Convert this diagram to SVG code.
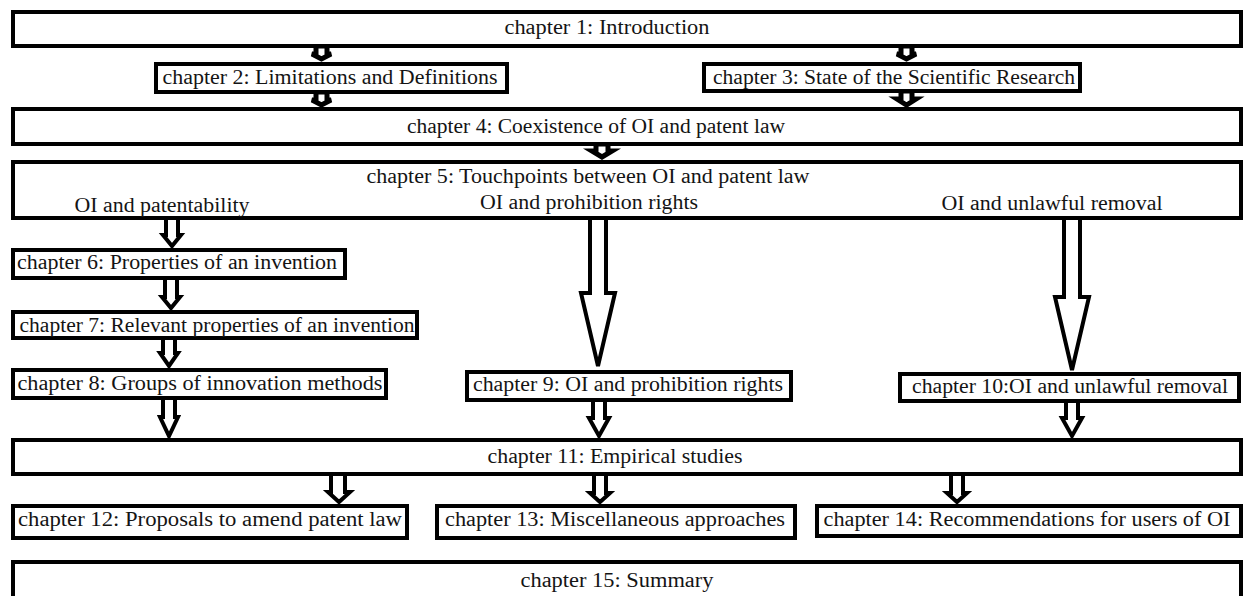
<svg xmlns="http://www.w3.org/2000/svg" width="1248" height="596" viewBox="0 0 1248 596">
  <style>
    .box { fill: #ffffff; stroke: #000000; stroke-width: 4; }
    .arrow { fill: #ffffff; stroke: #000000; stroke-width: 4; stroke-linejoin: miter; }
    .arrow.small { stroke-width: 5; }
    .label { font-family: "Liberation Serif", "DejaVu Serif", serif; font-size: 20px; fill: #141414; text-anchor: middle; }
  </style>
  <rect width="1248" height="596" fill="#ffffff"/>

  <!-- connectors: hollow block arrows -->
  <g id="connectors">
    <path class="arrow small" d="M316,46 H327 V54 H331 L321.5,59 L312,54 H316 Z"/>
    <path class="arrow small" d="M901,46 H912 V54 H916 L906.5,59 L897,54 H901 Z"/>
    <path class="arrow small" d="M316,92 H327 V100 H331 L321.5,105 L312,100 H316 Z"/>
    <path class="arrow small" d="M901,91 H912 V99 H916 L906.5,105 L897,99 H901 Z"/>
    <path class="arrow small" d="M596,144 H608 V151 H612 L602,157 L592,151 H596 Z"/>

    <path class="arrow" d="M166,218 H178 V235 H181 L172,246 L163,235 H166 Z"/>
    <path class="arrow" d="M165,278 H177 V297 H180 L171,308 L162,297 H165 Z"/>
    <path class="arrow" d="M163,338 H175 V353 H178 L169,366 L160,353 H163 Z"/>
    <path class="arrow" d="M163,398 H175 V417 H178 L169,436 L160,417 H163 Z"/>

    <path class="arrow" d="M590,218 H606 V293 H615 L598,366 L581,293 H590 Z"/>
    <path class="arrow" d="M1064,218 H1080 V297 H1089 L1072,370 L1055,297 H1064 Z"/>

    <path class="arrow" d="M593,400 H605 V418 H609 L599,436 L589,418 H593 Z"/>
    <path class="arrow" d="M1066,401 H1078 V418 H1082 L1072,436 L1062,418 H1066 Z"/>

    <path class="arrow" d="M331,474 H345 V492 H350 L339,502 L328,492 H331 Z"/>
    <path class="arrow" d="M594,474 H606 V493 H610 L600,502 L590,493 H594 Z"/>
    <path class="arrow" d="M951,474 H963 V493 H967 L957,502 L947,493 H951 Z"/>
  </g>

  <g id="ch1"><rect class="box" x="13" y="12" width="1228" height="34"/><text class="label" x="607" y="34" textLength="205" lengthAdjust="spacingAndGlyphs">chapter 1: Introduction</text></g>
  <g id="ch2"><rect class="box" x="156" y="64" width="351" height="28"/><text class="label" x="330" y="84" textLength="335" lengthAdjust="spacingAndGlyphs">chapter 2: Limitations and Definitions</text></g>
  <g id="ch3"><rect class="box" x="704" y="64" width="376" height="27"/><text class="label" x="894" y="84" textLength="362" lengthAdjust="spacingAndGlyphs">chapter 3: State of the Scientific Research</text></g>
  <g id="ch4"><rect class="box" x="13" y="109" width="1228" height="35"/><text class="label" x="596" y="133" textLength="378" lengthAdjust="spacingAndGlyphs">chapter 4: Coexistence of OI and patent law</text></g>
  <g id="ch5">
    <rect class="box" x="13" y="162" width="1228" height="56"/>
    <text class="label" x="588" y="183" textLength="443" lengthAdjust="spacingAndGlyphs">chapter 5: Touchpoints between OI and patent law</text>
    <text class="label" x="162" y="212" textLength="175" lengthAdjust="spacingAndGlyphs">OI and patentability</text>
    <text class="label" x="589" y="209" textLength="218" lengthAdjust="spacingAndGlyphs">OI and prohibition rights</text>
    <text class="label" x="1052" y="210" textLength="221" lengthAdjust="spacingAndGlyphs">OI and unlawful removal</text>
  </g>
  <g id="ch6"><rect class="box" x="13" y="250" width="332" height="28"/><text class="label" x="177" y="269" textLength="320" lengthAdjust="spacingAndGlyphs">chapter 6: Properties of an invention</text></g>
  <g id="ch7"><rect class="box" x="13" y="312" width="404" height="26"/><text class="label" x="217" y="332" textLength="395" lengthAdjust="spacingAndGlyphs">chapter 7: Relevant properties of an invention</text></g>
  <g id="ch8"><rect class="box" x="13" y="370" width="373" height="28"/><text class="label" x="200" y="390" textLength="365" lengthAdjust="spacingAndGlyphs">chapter 8:  Groups of innovation methods</text></g>
  <g id="ch9"><rect class="box" x="467" y="372" width="324" height="28"/><text class="label" x="628" y="391" textLength="310" lengthAdjust="spacingAndGlyphs">chapter 9: OI and prohibition rights</text></g>
  <g id="ch10"><rect class="box" x="900" y="374" width="339" height="27"/><text class="label" x="1070" y="393" textLength="316" lengthAdjust="spacingAndGlyphs">chapter 10:OI and unlawful removal</text></g>
  <g id="ch11"><rect class="box" x="13" y="440" width="1228" height="34"/><text class="label" x="615" y="463" textLength="255" lengthAdjust="spacingAndGlyphs">chapter 11: Empirical studies</text></g>
  <g id="ch12"><rect class="box" x="13" y="506" width="394" height="32"/><text class="label" x="210" y="526" textLength="384" lengthAdjust="spacingAndGlyphs">chapter 12: Proposals to amend patent law</text></g>
  <g id="ch13"><rect class="box" x="437" y="506" width="358" height="32"/><text class="label" x="615" y="526" textLength="340" lengthAdjust="spacingAndGlyphs">chapter 13: Miscellaneous approaches</text></g>
  <g id="ch14"><rect class="box" x="817" y="506" width="424" height="30"/><text class="label" x="1027" y="526" textLength="407" lengthAdjust="spacingAndGlyphs">chapter 14: Recommendations for users of OI</text></g>
  <!-- summary box runs off the bottom edge -->
  <g id="ch15"><rect class="box" x="13" y="562" width="1228" height="50"/><text class="label" x="617" y="587" textLength="193" lengthAdjust="spacingAndGlyphs">chapter 15: Summary</text></g>
</svg>
